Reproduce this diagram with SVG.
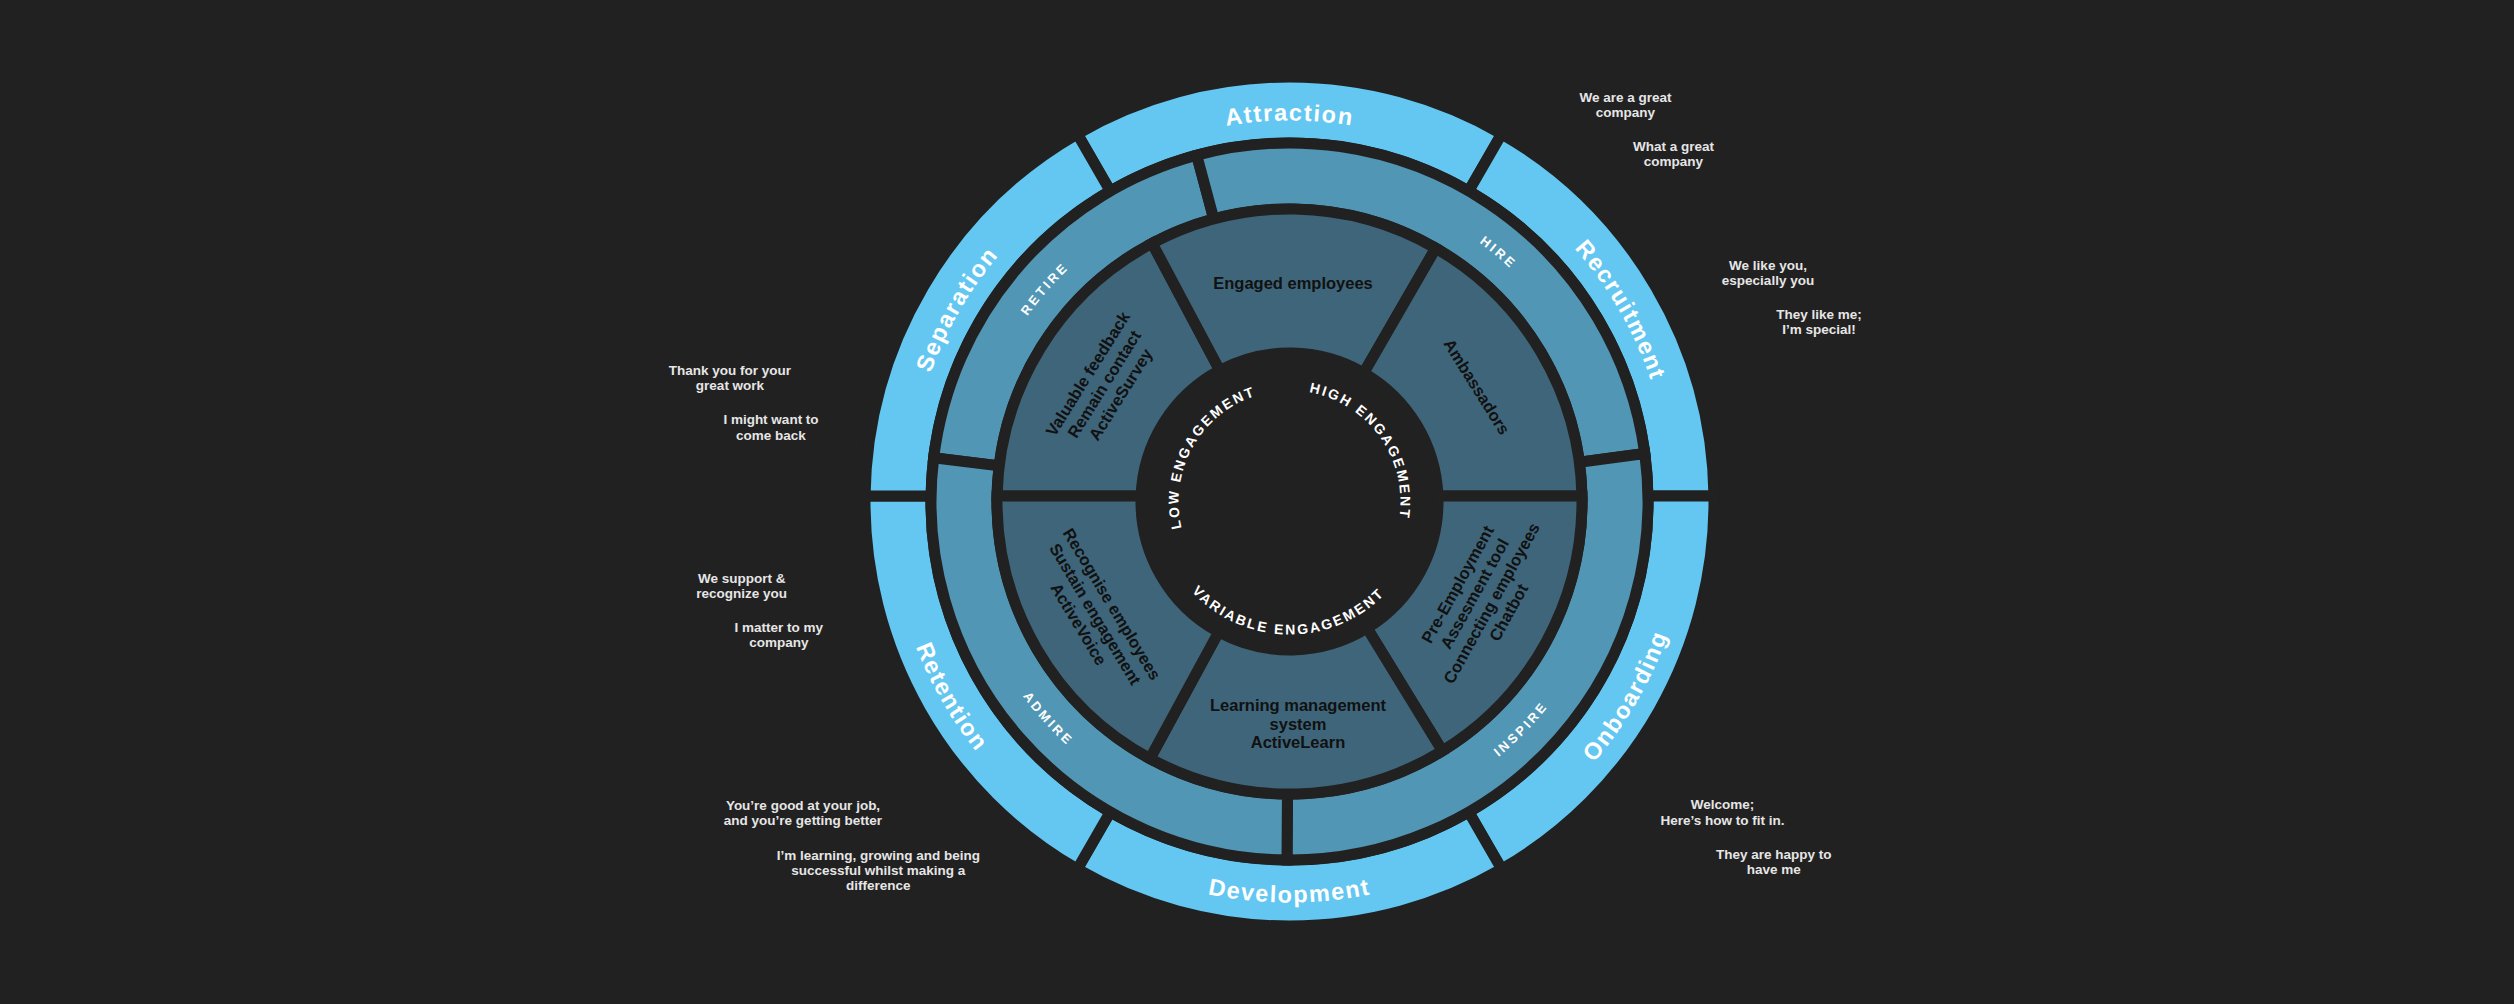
<svg xmlns="http://www.w3.org/2000/svg" width="2514" height="1004" viewBox="0 0 2514 1004">
<style>
.r1{fill:#64c7f1;stroke:#212121;stroke-width:11}
.r2{fill:#5196b4;stroke:#212121;stroke-width:11}
.r3{fill:#3e6579;stroke:#212121;stroke-width:11}
.l1{font-family:"Liberation Sans",Arial,sans-serif;font-weight:bold;font-size:23.5px;letter-spacing:1.6px;fill:#ffffff}
.l2{font-family:"Liberation Sans",Arial,sans-serif;font-weight:bold;font-size:13px;letter-spacing:2.8px;fill:#ffffff}
.l0{font-family:"Liberation Sans",Arial,sans-serif;font-weight:bold;font-size:14px;letter-spacing:2.2px;fill:#ffffff}
.l3{font-family:"Liberation Sans",Arial,sans-serif;font-weight:bold;font-size:16.5px;fill:#111111;text-anchor:middle}
.note{font-family:"Liberation Sans",Arial,sans-serif;font-weight:bold;font-size:13.5px;fill:#e6e6e6;text-anchor:middle}
</style>
<defs>
<path id="pAttraction" d="M1044.6,209.6 A381,381 0 0 1 1534.4,209.6"/>
<path id="pRecruitment" d="M1419.8,143.5 A381,381 0 0 1 1664.7,567.7"/>
<path id="pSeparation" d="M914.3,567.7 A381,381 0 0 1 1159.2,143.5"/>
<path id="pDevelopment" d="M1031.7,808.7 A401,401 0 0 0 1547.3,808.7"/>
<path id="pOnboarding" d="M1426.6,878.3 A401,401 0 0 0 1684.4,431.9"/>
<path id="pRetention" d="M894.6,431.9 A401,401 0 0 0 1152.4,878.3"/>
<path id="pRetire" d="M974.4,440.3 A321,321 0 0 1 1185.0,198.0"/>
<path id="pHire" d="M1345.2,185.4 A321,321 0 0 1 1591.1,391.7"/>
<path id="pInspire" d="M1377.7,819.5 A330,330 0 0 0 1609.0,584.1"/>
<path id="pAdmire" d="M966.7,570.1 A330,330 0 0 0 1187.5,815.4"/>
<path id="pLow" d="M1185.5,540.4 A111,111 0 0 1 1269.3,392.4"/>
<path id="pHigh" d="M1298.4,390.9 A111,111 0 0 1 1396.9,529.5"/>
<path id="pVar" d="M1179.6,576.4 A133,133 0 0 0 1397.5,579.1"/>
</defs>
<rect x="0" y="0" width="2514" height="1004" fill="#212121"/>

<g id="attraction">
<path class="r1" d="M1077.25,133.87 A424.5,424.5 0 0 1 1501.75,133.87 L1468.75,191.03 A358.5,358.5 0 0 0 1110.25,191.03 Z"/>
<text class="l1"><textPath href="#pAttraction" startOffset="50%" text-anchor="middle">Attraction</textPath></text>
</g>
<g id="recruitment">
<path class="r1" d="M1501.75,133.87 A424.5,424.5 0 0 1 1713.96,496 L1647.96,496 A358.5,358.5 0 0 0 1468.75,191.03 Z"/>
<text class="l1"><textPath href="#pRecruitment" startOffset="50%" text-anchor="middle">Recruitment</textPath></text>
</g>
<g id="onboarding">
<path class="r1" d="M1713.96,496 A424.5,424.5 0 0 1 1501.75,869.13 L1468.75,811.97 A358.5,358.5 0 0 0 1647.96,496 Z"/>
<text class="l1"><textPath href="#pOnboarding" startOffset="50%" text-anchor="middle">Onboarding</textPath></text>
</g>
<g id="development">
<path class="r1" d="M1501.75,869.13 A424.5,424.5 0 0 1 1077.25,869.13 L1110.25,811.97 A358.5,358.5 0 0 0 1468.75,811.97 Z"/>
<text class="l1"><textPath href="#pDevelopment" startOffset="50%" text-anchor="middle">Development</textPath></text>
</g>
<g id="retention">
<path class="r1" d="M1077.25,869.13 A424.5,424.5 0 0 1 865.04,496 L931.04,496 A358.5,358.5 0 0 0 1110.25,811.97 Z"/>
<text class="l1"><textPath href="#pRetention" startOffset="50%" text-anchor="middle">Retention</textPath></text>
</g>
<g id="separation">
<path class="r1" d="M865.04,496 A424.5,424.5 0 0 1 1077.25,133.87 L1110.25,191.03 A358.5,358.5 0 0 0 931.04,496 Z"/>
<text class="l1"><textPath href="#pSeparation" startOffset="50%" text-anchor="middle">Separation</textPath></text>
</g>

<g id="retire">
<path class="r2" d="M933.67,457.81 A358.5,358.5 0 0 1 1196.71,155.21 L1213.80,218.97 A292.5,292.5 0 0 0 999.18,465.85 Z"/>
<text class="l2"><textPath href="#pRetire" startOffset="50%" text-anchor="middle">RETIRE</textPath></text>
</g>
<g id="hire">
<path class="r2" d="M1196.71,155.21 A358.5,358.5 0 0 1 1644.77,453.46 L1579.36,462.31 A292.5,292.5 0 0 0 1213.80,218.97 Z"/>
<text class="l2"><textPath href="#pHire" startOffset="50%" text-anchor="middle">HIRE</textPath></text>
</g>
<g id="inspire">
<path class="r2" d="M1644.77,453.46 A358.5,358.5 0 0 1 1287.0,859.99 L1287.46,793.99 A292.5,292.5 0 0 0 1579.36,462.31 Z"/>
<text class="l2"><textPath href="#pInspire" startOffset="50%" text-anchor="middle">INSPIRE</textPath></text>
</g>
<g id="admire">
<path class="r2" d="M1287.0,859.99 A358.5,358.5 0 0 1 933.67,457.81 L999.18,465.85 A292.5,292.5 0 0 0 1287.46,793.99 Z"/>
<text class="l2"><textPath href="#pAdmire" startOffset="50%" text-anchor="middle">ADMIRE</textPath></text>
</g>

<g id="valuable-feedback">
<path class="r3" d="M997.05,496 A292.5,292.5 0 0 1 1152.18,243.24 L1219.78,370.38 A148.5,148.5 0 0 0 1141.10,496 Z"/>
<g transform="translate(1104,384) rotate(-58)">
<text class="l3" x="0" y="-13.4">Valuable feedback</text>
<text class="l3" x="0" y="6">Remain contact</text>
<text class="l3" x="0" y="25.4">ActiveSurvey</text>
</g>
</g>
<g id="engaged-employees">
<path class="r3" d="M1152.18,243.24 A292.5,292.5 0 0 1 1435.75,248.19 L1363.75,372.90 A148.5,148.5 0 0 0 1219.78,370.38 Z"/>
<text class="l3" x="1293" y="289">Engaged employees</text>
</g>
<g id="ambassadors">
<path class="r3" d="M1435.75,248.19 A292.5,292.5 0 0 1 1581.95,496 L1437.90,496 A148.5,148.5 0 0 0 1363.75,372.90 Z"/>
<text class="l3" transform="translate(1477,386.7) rotate(58)" x="0" y="6">Ambassadors</text>
</g>
<g id="pre-employment">
<path class="r3" d="M1581.95,496 A292.5,292.5 0 0 1 1442.33,750.90 L1367.09,628.12 A148.5,148.5 0 0 0 1437.90,496 Z"/>
<g transform="translate(1482.8,598.3) rotate(-61)">
<text class="l3" x="0" y="-23.1">Pre-Employment</text>
<text class="l3" x="0" y="-3.7">Assesment tool</text>
<text class="l3" x="0" y="15.7">Connecting employees</text>
<text class="l3" x="0" y="35.1">Chatbot</text>
</g>
</g>
<g id="learning-management">
<path class="r3" d="M1442.33,750.90 A292.5,292.5 0 0 1 1149.93,758.55 L1218.64,632.00 A148.5,148.5 0 0 0 1367.09,628.12 Z"/>
<text class="l3" x="1298" y="711">Learning management</text>
<text class="l3" x="1298" y="729.5">system</text>
<text class="l3" x="1298" y="748">ActiveLearn</text>
</g>
<g id="recognise-employees">
<path class="r3" d="M1149.93,758.55 A292.5,292.5 0 0 1 997.05,496 L1141.10,496 A148.5,148.5 0 0 0 1218.64,632.00 Z"/>
<g transform="translate(1095.5,614) rotate(59)">
<text class="l3" x="0" y="-13.4">Recognise employees</text>
<text class="l3" x="0" y="6">Sustain engagement</text>
<text class="l3" x="0" y="25.4">ActiveVoice</text>
</g>
</g>

<g id="engagement-levels">
<text class="l0"><textPath href="#pLow" startOffset="50%" text-anchor="middle">LOW ENGAGEMENT</textPath></text>
<text class="l0"><textPath href="#pHigh" startOffset="50%" text-anchor="middle">HIGH ENGAGEMENT</textPath></text>
<text class="l0"><textPath href="#pVar" startOffset="50%" text-anchor="middle">VARIABLE ENGAGEMENT</textPath></text>
</g>

<g id="notes">
<text class="note" x="1625.5" y="101.5">We are a great</text>
<text class="note" x="1625.5" y="117">company</text>
<text class="note" x="1673.5" y="150.5">What a great</text>
<text class="note" x="1673.5" y="166">company</text>
<text class="note" x="1768" y="269.5">We like you,</text>
<text class="note" x="1768" y="285">especially you</text>
<text class="note" x="1819" y="318.5">They like me;</text>
<text class="note" x="1819" y="334">I’m special!</text>
<text class="note" x="730" y="374.5">Thank you for your</text>
<text class="note" x="730" y="390">great work</text>
<text class="note" x="771" y="424">I might want to</text>
<text class="note" x="771" y="439.5">come back</text>
<text class="note" x="741.7" y="582.5">We support &amp;</text>
<text class="note" x="741.7" y="598">recognize you</text>
<text class="note" x="778.8" y="631.5">I matter to my</text>
<text class="note" x="778.8" y="647">company</text>
<text class="note" x="803" y="809.5">You’re good at your job,</text>
<text class="note" x="803" y="824.5">and you’re getting better</text>
<text class="note" x="878.3" y="860">I’m learning, growing and being</text>
<text class="note" x="878.3" y="875">successful whilst making a</text>
<text class="note" x="878.3" y="890">difference</text>
<text class="note" x="1722.5" y="808.5">Welcome;</text>
<text class="note" x="1722.5" y="824.5">Here’s how to fit in.</text>
<text class="note" x="1773.7" y="859">They are happy to</text>
<text class="note" x="1773.7" y="874">have me</text>
</g>
</svg>
